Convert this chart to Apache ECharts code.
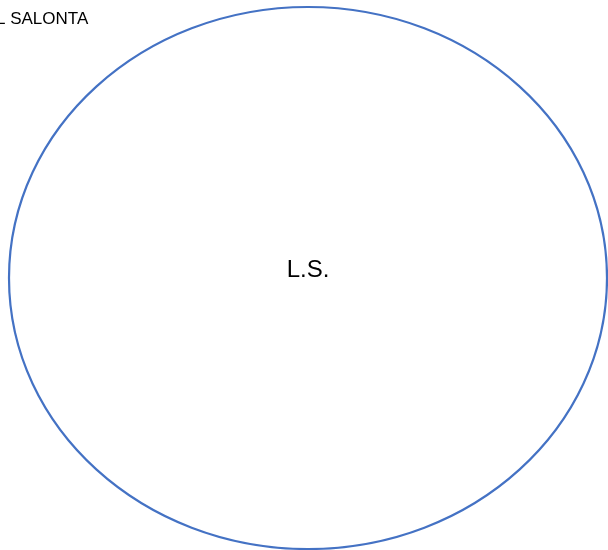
<!DOCTYPE html>
<html><head><meta charset="utf-8">
<script src="https://cdn.jsdelivr.net/npm/echarts@6/dist/echarts.min.js"></script>
<style>html,body{margin:0;padding:0;background:#fff}#c{width:608px;height:550px}</style>
</head><body><div id="c"></div>
<script>
const headerText = 'L SALONTA';
const centerLabel = 'L.S.';
const chart = echarts.init(document.getElementById('c'), null, {renderer:'canvas'});
chart.setOption({
  backgroundColor:'#ffffff',
  animation:false,
  graphic:[
    {type:'ellipse', shape:{cx:308, cy:278, rx:299, ry:271},
     style:{fill:'none', stroke:'#4472C4', lineWidth:2.2}},
    {type:'text', left:-4, top:11,
     style:{text:headerText, font:'17px "Liberation Sans"', fill:'#000'}},
    {type:'text', x:308, y:270,
     style:{text:centerLabel, font:'24px "Liberation Sans"', fill:'#000', align:'center', verticalAlign:'middle'}}
  ]
});
</script></body></html>
